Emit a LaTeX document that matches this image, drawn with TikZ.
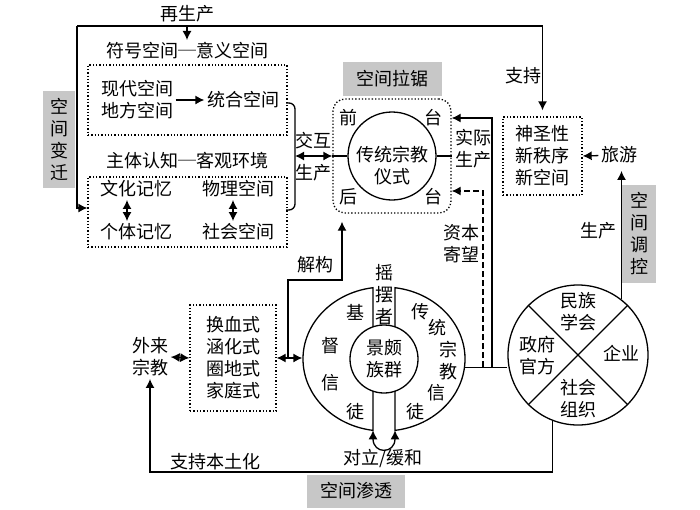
\documentclass[tikz,border=0pt]{standalone}
\usepackage{fontspec}
\setmainfont{Noto Sans CJK SC}
\usetikzlibrary{
  arrows.meta,
  positioning,
  calc,
  shapes.geometric
}

\begin{document}
\begin{tikzpicture}[
    x=1pt, y=-1pt,
    line width=1.3pt,
    every node/.style={font=\fontsize{18}{22}\selectfont, align=center, inner sep=2pt},
    arr/.style={-{Latex[length=9pt,width=9pt]}},
    darr/.style={{Latex[length=9pt,width=9pt]}-{Latex[length=9pt,width=9pt]}},
    dotbox/.style={draw, dotted},
    gbox/.style={fill=black!22, inner sep=0pt},
    dsh/.style={dash pattern=on 6pt off 3pt}
  ]
    \useasboundingbox (0,0) rectangle (700,509);
    % left block: symbol space and cognition
    \node[gbox, minimum width=32, minimum height=97] (bq) at (59,139) {空\\间\\变\\迁};
    \node (zs) at (187,51) {符号空间─意义空间};
    \node[dotbox, minimum width=199, minimum height=70] (up) at (187.5,100) {};
    \node (xd) at (137,100) {现代空间\\地方空间};
    \node (th) at (243,100) {统合空间};
    \draw[arr] (xd) -- (th);
    \node (zt) at (187,161) {主体认知─客观环境};
    \node[dotbox, minimum width=199, minimum height=70] (low) at (187.5,212) {};
    \node (wh) at (136,189) {文化记忆};
    \node (gt) at (136,232) {个体记忆};
    \node (wlkj) at (238,189) {物理空间};
    \node (shkj) at (238,232) {社会空间};
    \draw[darr] ([xshift=-9]wh.south) -- ([xshift=-9]gt.north);
    \draw[darr] ([xshift=-5]wlkj.south) -- ([xshift=-5]shkj.north);
    \draw[rounded corners=6] (286,103) -| (295,210) -- (286,210);
    \coordinate (brc) at (295,156);
    % ritual
    \node[gbox, minimum width=99, minimum height=34] (lj) at (392,79) {空间拉锯};
    \node[dotbox, rounded corners=12, minimum width=118, minimum height=114] (ritual) at (392,156) {};
    \node[draw, circle, minimum size=88, inner sep=0pt] (rc) at (392,156) {};
    \node (rct) at (392,166) {传统宗教\\仪式};
    \draw (ritual.west) -- (rc.west);
    \draw (rc.east) -- (ritual.east);
    \node (qt1) at (348,118) {前};
    \node (qt2) at (433,118) {台};
    \node (ht1) at (348,197) {后};
    \node (ht2) at (433,197) {台};
    \draw[darr] (brc) -- (ritual.west);
    \node (jh) at (313,141) {交互};
    \node (sc1) at (313,173) {生产};
    \node (sj) at (473,149) {实际\\生产};
    \node (zb) at (461,244) {资本\\寄望};
    % sacred space
    \node[dotbox, minimum width=79, minimum height=78] (sacred) at (542.5,156) {神圣性\\新秩序\\新空间};
    \node (ly) at (619,155) {旅游};
    \draw[arr] (ly) -- (sacred.east);
    \node (zc) at (523,76) {支持};
    % reproduction loop
    \coordinate (tl) at (77,26);
    \node (zsc) at (187,14) {再生产};
    \draw[arr] (tl) |- ([yshift=4]low.west);
    \draw[arr, shorten >=6pt] (tl) -| (sacred.north);
    \draw[arr] (zs.north |- tl) -- (zs.north);
    % actors
    \node[draw, circle, minimum size=140, inner sep=0pt] (org) at (578,355) {};
    \draw (org.45) -- (org.225);
    \draw (org.135) -- (org.-45);
    \node (mz) at (578,312) {民族\\学会};
    \node (qy) at (621,353) {企业};
    \node (sh) at (578,399) {社会\\组织};
    \node (zf) at (537,356) {政府\\官方};
    \node[gbox, minimum width=34, minimum height=98] (tk) at (639,234) {空\\间\\调\\控};
    \node (sc2) at (598,231) {生产};
    \draw[arr, shorten >=5pt] (org.52) -- (org.52 |- ly.south);
    % believers ring
    \node[ellipse, minimum width=162, minimum height=144, inner sep=0pt] (ring) at (384,359) {};
    \node[draw, circle, minimum size=68, inner sep=0pt] (zq) at (384,359) {景颇\\族群};
    \begin{scope}[shift={(ring.center)}, y=1pt]
      \draw (-11,32.2) -- (-11,71.3) arc[start angle=97.8, end angle=262.2, x radius=81, y radius=72] -- (-11,-32.2);
      \draw (11,32.2) -- (11,71.3) arc[start angle=82.2, end angle=-82.2, x radius=81, y radius=72] -- (11,-32.2);
    \end{scope}
    \node (ybz) at (384,295) {摇\\摆\\者};
    \foreach \ch/\px/\py [count=\i] in {基/355/312, 督/330/346, 信/330/383, 徒/355/412}
      \node (jd\i) at (\px,\py) {\ch};
    \foreach \ch/\px/\py [count=\i] in {传/420/312, 统/437/328, 宗/448/350, 教/448/372, 信/436/393, 徒/415/412}
      \node (ct\i) at (\px,\py) {\ch};
    \coordinate (gl) at ($(ring.center)+(-11,71.3)$);
    \coordinate (gr) at ($(ring.center)+(11,71.3)$);
    \draw[darr] (gl) .. controls +(0,24) and +(0,24) .. (gr);
    \node (dl) at (383,458) {对立/缓和};
    % links from the ring
    \draw (ring.-6) -- (ring.-6 -| org.west);
    \coordinate (sx) at (492,367);
    \coordinate (dx) at (483,367);
    \draw[arr] (sx) |- ([yshift=38]ritual.east);
    \draw[arr, dsh] (dx) |- ([yshift=-35]ritual.east);
    % foreign religion
    \node (wl) at (150,357) {外来\\宗教};
    \node[dotbox, minimum width=86, minimum height=106] (hx) at (233,358) {换血式\\涵化式\\圈地式\\家庭式};
    \draw[darr] (wl.east) -- (hx.west);
    \draw[darr] (hx.east) -- (hx.east -| ring.west);
    \coordinate (jx) at (288,358);
    \coordinate (jt) at (342,280);
    \draw[arr, shorten >=8pt] (jx) |- (jt) -- (jt |- ritual.south);
    \node (jg) at (315,265) {解构};
    \coordinate (bb) at (150,472);
    \draw[arr] (org.-111) |- (bb) -- (wl.south);
    \node (zbt) at (215,462) {支持本土化};
    \node[gbox, minimum width=98, minimum height=33] (st) at (356,491) {空间渗透};
  \end{tikzpicture}
\end{document}
